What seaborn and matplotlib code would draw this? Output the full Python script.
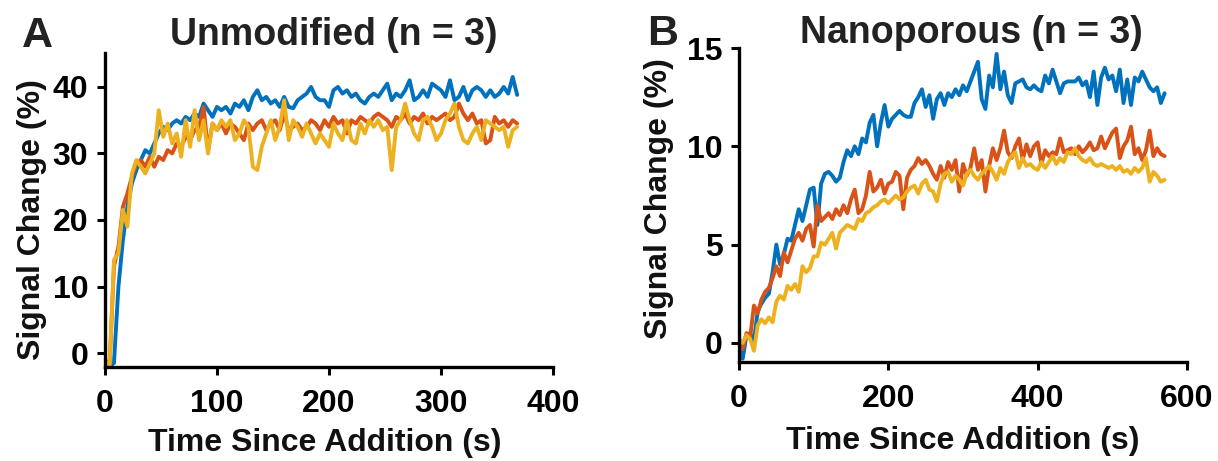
import numpy as np
import pandas as pd
import seaborn as sns
import matplotlib
matplotlib.use("Agg")
import matplotlib.pyplot as plt

# ---------------- data ----------------
series_names = ["Electrode 1", "Electrode 2", "Electrode 3"]
series_colors = ["#0072BD", "#D95319", "#EDB120"]

# Panel A: Unmodified (sampled every 4 s)
time_a = np.arange(0, 372, 4)
blue_a = [-2, -2, -1.5, 10, 17, 22, 25.5, 27.5, 29, 30.5, 30, 31.5, 33, 34, 33.5, 34.5,
          35, 34.5, 35.5, 35, 36, 35.5, 37.5, 36.5, 35.5, 37, 36.5, 37, 36, 37.5, 37, 38,
          36.5, 38.5, 39.5, 38, 38.5, 37.5, 38, 37, 38.5, 37, 36.8, 38, 38.5, 39, 40, 38.5,
          38, 38, 37, 39.5, 40, 39, 39.5, 38.5, 39, 38, 37.5, 38.5, 39, 38.5, 39.5, 40.5,
          38, 39, 38.5, 39.5, 41, 38, 38.5, 39.5, 38.5, 40.5, 40, 39.5, 38.5, 41, 38, 38.5,
          40, 38, 39.5, 40, 39.5, 38.5, 39.5, 38.5, 39, 40, 39, 41.5, 38.8]
red_a = [-1, -2, 13, 16, 22, 24, 26.5, 28.5, 29, 28, 29.5, 28, 29.5, 29, 30.5, 30,
         31.5, 31, 32.5, 32, 33.5, 34, 37, 30.5, 34.5, 33.5, 34.5, 33, 34.5, 34, 33, 32,
         34.5, 33.5, 34.5, 35, 33.5, 34.5, 35, 33.5, 36, 33.5, 34, 34.5, 33.5, 34, 35, 34.5,
         33.5, 35, 34, 35.5, 34.5, 35, 33, 35, 34.5, 35.5, 35, 34.5, 35.5, 36, 35.5, 35,
         34, 35.5, 35, 36, 34.5, 35.5, 35, 36, 34.5, 35.5, 35, 35.5, 36, 35, 35.5, 37.5,
         36, 35, 36, 34.5, 35, 31.5, 32, 35.5, 34.5, 35, 34, 35, 34.5]
yellow_a = [-1, -2.5, 14, 15, 21.5, 19, 27, 29, 28, 27, 28.5, 30, 36.5, 32.5, 34.5, 31.5,
            33, 29.5, 35, 31, 36.5, 32, 35, 30, 34.5, 33.5, 35, 34, 35, 32, 33, 35,
            34, 28, 27.5, 31, 33, 35, 32, 34, 38, 32, 35, 34, 32.5, 34.5, 33, 31.5,
            33, 32, 31, 34.5, 33, 32, 35, 32, 31.5, 34.5, 33, 35, 34, 35, 33.5, 34,
            27.5, 34, 35, 37.5, 35, 33, 32, 35, 35.5, 34, 32, 33, 35, 36, 37.5, 34,
            32, 31.5, 33, 34, 32, 35, 34.5, 34, 33.5, 34, 31, 33.5, 34]

# Panel B: Nanoporous (sampled every 5 s)
time_b = np.arange(0, 575, 5)
blue_b = [-0.3, -0.8, 0.4, 0.5, 0.1, 1.6, 2.0, 2.3, 2.5, 3.6, 5.0, 4.0, 4.5, 5.3, 5.2, 6.0,
          6.8, 6.2, 7.0, 7.8, 7.9, 6.0, 8.1, 8.6, 8.7, 8.5, 8.2, 8.4, 9.2, 9.8, 9.5, 10.0,
          9.6, 10.4, 10.2, 11.2, 11.6, 10.0, 11.2, 12.1, 11.0, 11.4, 11.6, 11.8, 11.6, 11.5,
          11.5, 12.2, 12.5, 12.9, 12.0, 12.6, 11.4, 12.4, 12.7, 12.1, 12.7, 12.5, 12.9, 12.6,
          13.1, 12.8, 13.3, 13.8, 14.3, 12.4, 11.9, 13.6, 13.0, 14.7, 12.9, 13.8, 12.6, 12.2,
          13.2, 13.3, 13.4, 13.0, 12.9, 13.1, 12.9, 12.8, 13.6, 13.2, 13.9, 13.3, 12.7, 13.2,
          13.3, 13.3, 13.3, 13.5, 13.1, 13.3, 12.5, 13.8, 12.1, 13.5, 14.0, 13.4, 13.6, 12.8,
          13.9, 12.2, 13.4, 12.1, 13.5, 13.3, 13.8, 13.4, 13.0, 12.8, 13.0, 12.2, 12.7]
red_b = [0.2, -0.3, 0.5, 0.3, 1.9, 1.5, 2.2, 2.6, 2.8, 3.3, 3.9, 3.4, 4.6, 4.1, 4.7, 5.3,
         5.6, 5.2, 5.8, 6.0, 4.9, 7.0, 6.2, 6.4, 6.6, 6.3, 6.8, 6.5, 7.0, 6.6, 7.3, 7.8,
         6.6, 6.8, 7.5, 8.7, 7.7, 7.9, 8.3, 7.6, 8.1, 8.2, 8.7, 8.5, 6.8, 8.4, 8.8, 9.0,
         9.4, 9.1, 9.3, 9.0, 8.6, 8.3, 9.0, 8.4, 9.2, 8.8, 9.3, 7.7, 9.1, 8.5, 8.9, 9.9,
         8.8, 9.3, 7.7, 9.0, 9.9, 9.3, 9.9, 10.8, 9.7, 9.4, 10.0, 10.4, 9.3, 10.1, 9.5, 10.0,
         10.2, 9.1, 9.8, 9.5, 9.7, 9.6, 10.4, 9.7, 9.8, 9.9, 9.6, 10.0, 9.7, 9.9, 10.2, 9.8,
         9.9, 10.5, 9.9, 10.3, 10.7, 10.9, 9.4, 10.0, 10.3, 11.0, 9.6, 9.9, 9.3, 9.8, 10.8,
         9.5, 9.9, 9.6, 9.5]
yellow_b = [0.2, 0.0, 0.4, 0.2, -0.4, 0.9, 1.2, 1.0, 1.3, 1.05, 2.1, 2.4, 2.2, 2.9, 2.7, 3.0,
            2.6, 3.9, 3.6, 3.8, 4.4, 4.4, 5.1, 5.0, 5.3, 5.6, 4.8, 5.6, 5.8, 6.0, 5.9, 5.8,
            6.3, 6.2, 6.6, 6.7, 6.9, 7.0, 7.2, 7.3, 7.1, 7.3, 7.5, 7.3, 7.4, 7.7, 7.9, 8.0,
            7.6, 8.1, 8.3, 7.8, 7.7, 7.2, 8.1, 8.6, 8.7, 8.2, 8.5, 8.3, 8.0, 8.6, 8.8, 8.5,
            8.3, 8.6, 8.8, 9.0, 8.7, 8.3, 8.9, 8.6, 9.2, 9.5, 9.7, 8.9, 9.4, 9.0, 9.1, 8.9,
            8.8, 9.2, 8.9, 9.2, 9.5, 9.1, 9.4, 9.2, 9.7, 9.6, 9.9, 9.5, 9.3, 9.2, 9.4, 9.1,
            9.0, 9.1, 9.0, 8.9, 9.0, 8.8, 9.0, 8.7, 8.8, 8.6, 8.9, 8.7, 8.9, 9.4, 8.2, 8.7,
            8.5, 8.2, 8.3]

panel_titles = ["Unmodified (n = 3)", "Nanoporous (n = 3)"]
panel_letters = ["A", "B"]
xlabel_text = "Time Since Addition (s)"
ylabel_text = "Signal Change (%)"
xticks_a = [0, 100, 200, 300, 400]
yticks_a = [0, 10, 20, 30, 40]
xticks_b = [0, 200, 400, 600]
yticks_b = [0, 5, 10, 15]


def long_frame(t, ys):
    frames = []
    for name, y in zip(series_names, ys):
        frames.append(pd.DataFrame({"time": t, "signal": y, "series": name}))
    return pd.concat(frames, ignore_index=True)


df_a = long_frame(time_a, [blue_a, red_a, yellow_a])
df_b = long_frame(time_b, [blue_b, red_b, yellow_b])

# ---------------- style ----------------
sns.set_style("ticks")
plt.rcParams["font.family"] = ["Liberation Sans", "DejaVu Sans"]
plt.rcParams["font.weight"] = "bold"

W, H = 1218, 461
fig = plt.figure(figsize=(W / 100, H / 100), dpi=100)
fig.patch.set_facecolor("white")

ax_a = fig.add_axes([105 / W, 1 - 367 / H, (553 - 105) / W, (367 - 53) / H])
ax_b = fig.add_axes([739 / W, 1 - 362 / H, (1187 - 739) / W, (362 - 48) / H])

palette = dict(zip(series_names, series_colors))

for ax, df in [(ax_a, df_a), (ax_b, df_b)]:
    sns.lineplot(data=df, x="time", y="signal", hue="series", palette=palette,
                 linewidth=2.8, ax=ax, legend=False, estimator=None, sort=False)

ax_a.set_xlim(0, 400)
ax_a.set_ylim(-2.1, 45.1)
ax_a.set_xticks(xticks_a)
ax_a.set_yticks(yticks_a)

ax_b.set_xlim(0, 600)
ax_b.set_ylim(-0.97, 15.0)
ax_b.set_xticks(xticks_b)
ax_b.set_yticks(yticks_b)

for ax in (ax_a, ax_b):
    sns.despine(ax=ax)
    for side in ("left", "bottom"):
        ax.spines[side].set_linewidth(2.4)
        ax.spines[side].set_color("black")
        ax.spines[side].set_capstyle("projecting")
    ax.tick_params(axis="both", direction="out", length=6, width=2.2, colors="black",
                   labelsize=23)
    ax.tick_params(axis="x", pad=10)
    ax.tick_params(axis="y", pad=6)
    for lab in ax.get_xticklabels() + ax.get_yticklabels():
        lab.set_fontweight("bold")
    ax.set_xlabel(xlabel_text, fontsize=23, fontweight="bold", color="#111111")
    ax.set_ylabel(ylabel_text, fontsize=23, fontweight="bold", color="#111111")
    ax.set_facecolor("white")

ax_a.xaxis.set_label_coords(0.49, -0.195)
ax_b.xaxis.set_label_coords(0.50, -0.205)
ax_a.yaxis.set_label_coords(-0.13, 0.47)
ax_b.yaxis.set_label_coords(-0.145, 0.52)

# titles and panel letters
fig.text(334 / W, 1 - 45 / H, panel_titles[0], fontsize=27, fontweight="bold",
         ha="center", va="baseline", color="#222222")
fig.text(971 / W, 1 - 43 / H, panel_titles[1], fontsize=27, fontweight="bold",
         ha="center", va="baseline", color="#222222")
fig.text(22 / W, 1 - 47 / H, panel_letters[0], fontsize=31, fontweight="bold",
         ha="left", va="baseline", color="#222222")
fig.text(647 / W, 1 - 45 / H, panel_letters[1], fontsize=31, fontweight="bold",
         ha="left", va="baseline", color="#222222")

fig.savefig("out.png", dpi=100, facecolor="white")
